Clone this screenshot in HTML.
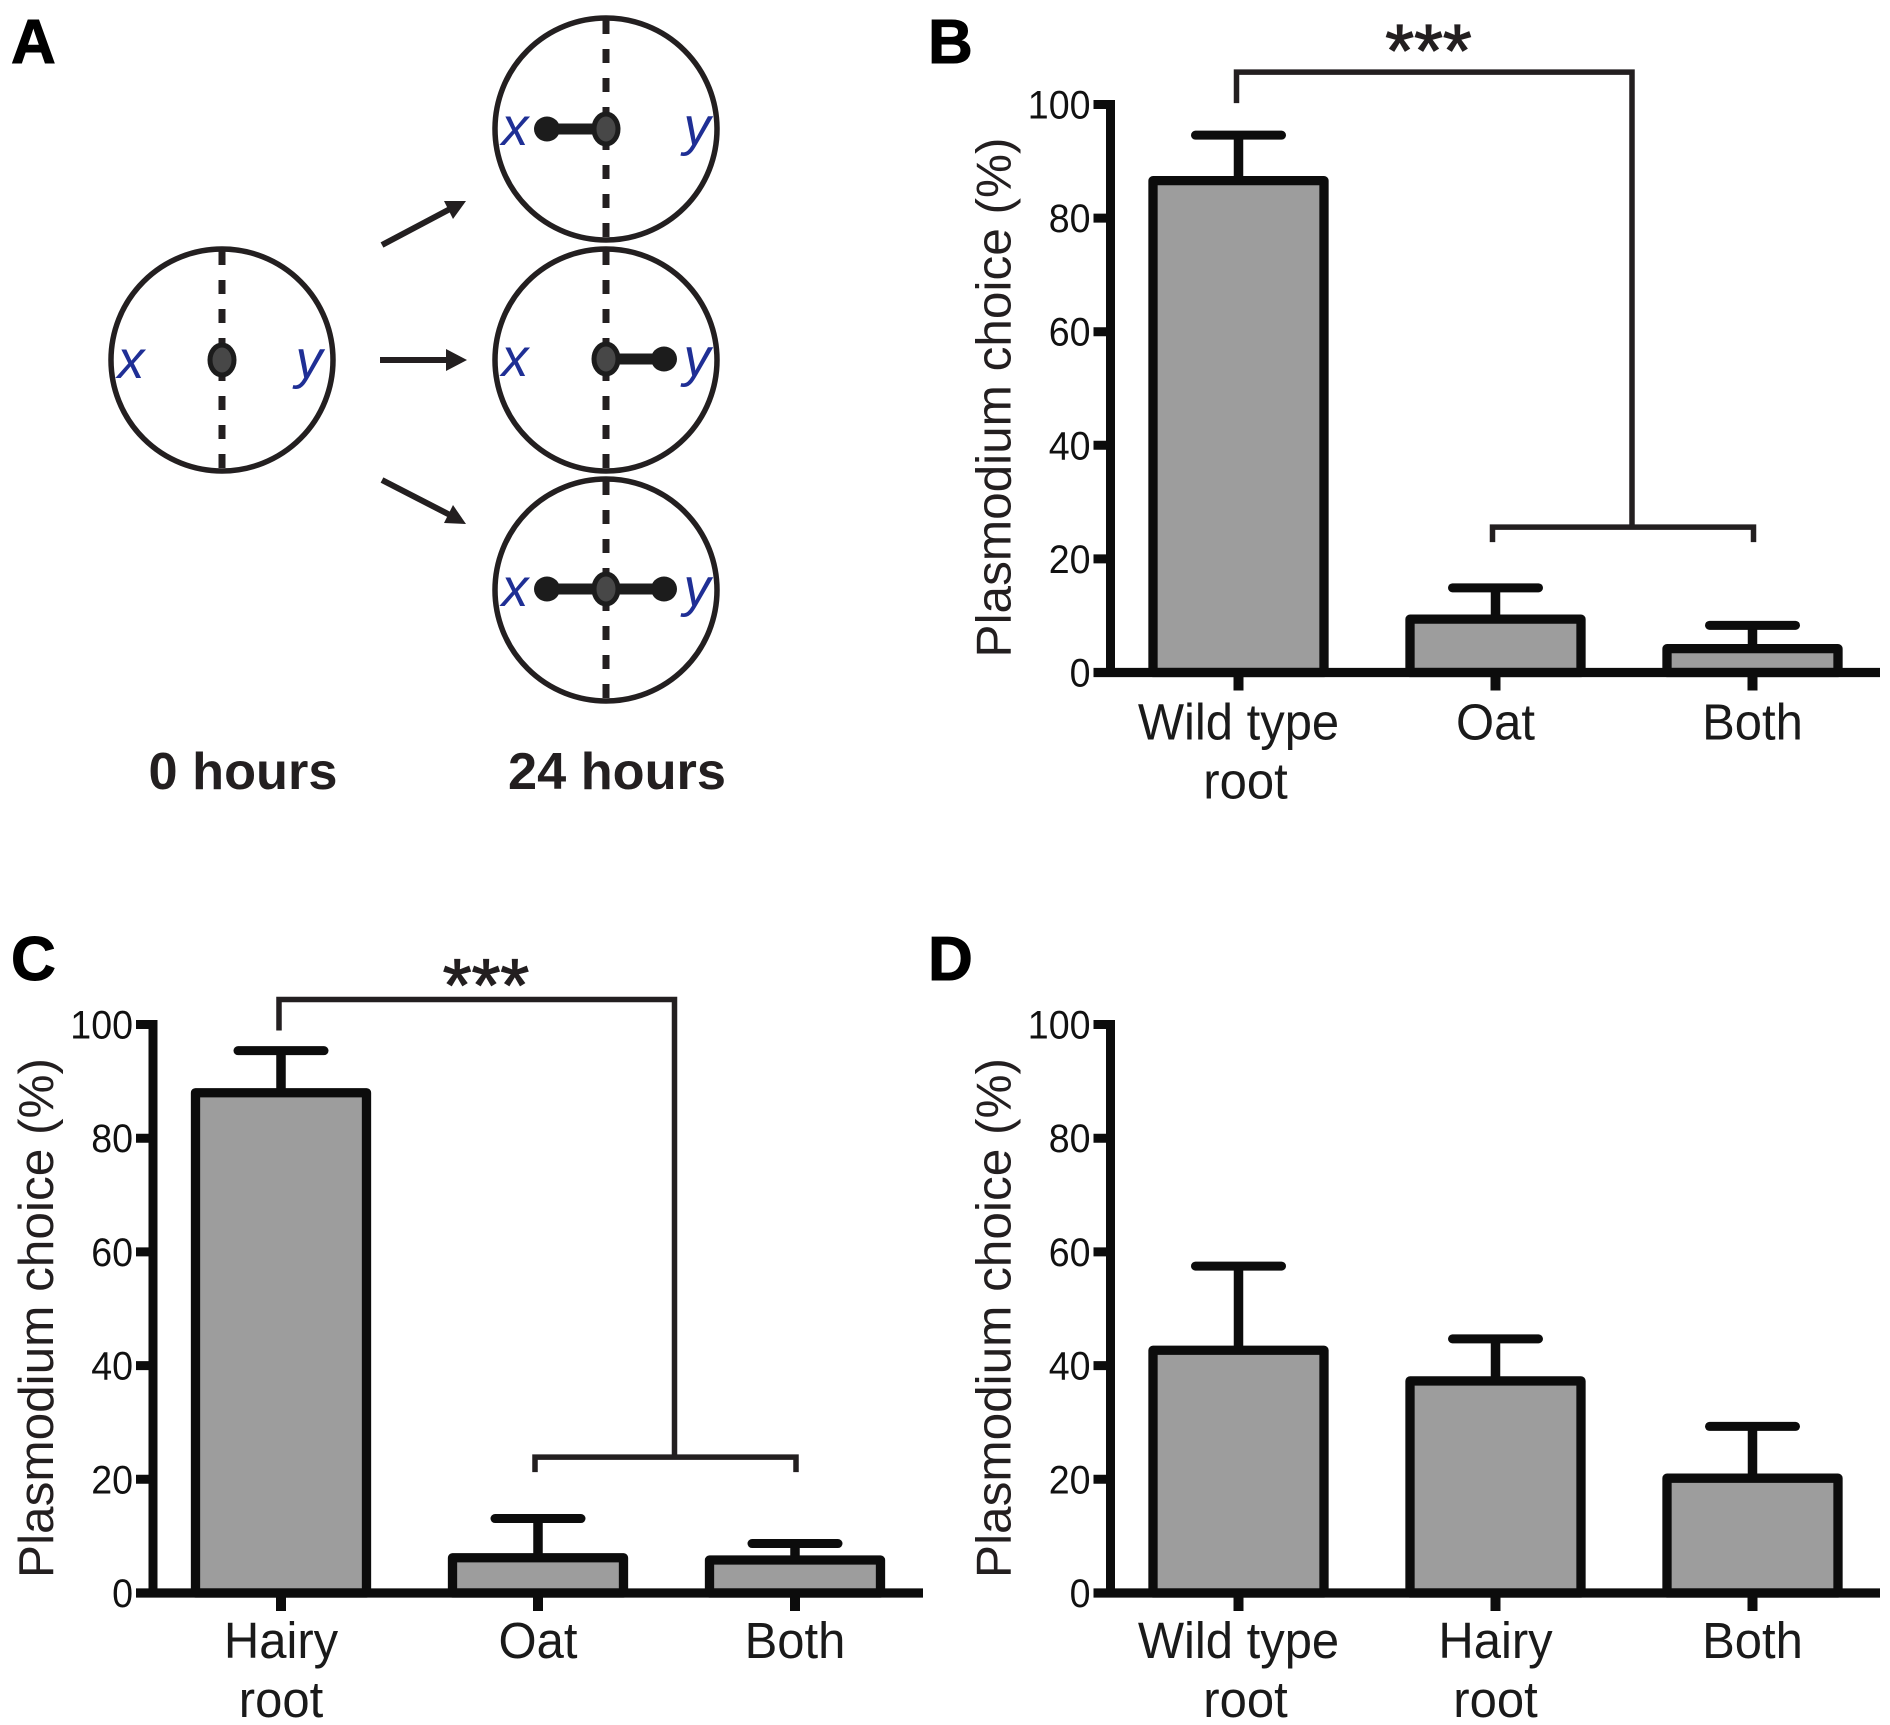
<!DOCTYPE html>
<html lang="en">
<head>
<meta charset="utf-8">
<title>Plasmodium choice assay</title>
<style>
html,body{margin:0;padding:0;background:#fff;width:1890px;height:1725px;overflow:hidden}
svg{display:block}
text{font-family:"Liberation Sans",Arial,sans-serif}
.panel-letter{font-weight:700;font-size:62px;fill:#000;stroke:#000;stroke-width:1}
.time{font-weight:700;font-size:52.3px;fill:#231f20;text-anchor:middle}
.lbl{font-style:italic;font-size:54px;fill:#1f2f95;text-anchor:middle}
</style>
</head>
<body>
<svg id="fig" xmlns="http://www.w3.org/2000/svg" width="1890" height="1725" viewBox="0 0 1890 1725">
  <rect x="0" y="0" width="1890" height="1725" fill="#fff"/>
  <text class="panel-letter" x="11" y="63">A</text>
  <text class="panel-letter" x="928" y="63">B</text>
  <text class="panel-letter" x="11" y="980">C</text>
  <text class="panel-letter" x="928" y="980">D</text>

  <g>
    <g>
      <circle cx="222" cy="360" r="111" fill="#fff" stroke="#231f20" stroke-width="5.5"/>
      <line x1="222" y1="251" x2="222" y2="471" stroke="#231f20" stroke-width="7" stroke-dasharray="14 15"/>
      <ellipse cx="222" cy="360" rx="12" ry="15" fill="#474747" stroke="#1c1c1c" stroke-width="5"/>
      <text class="lbl" x="131" y="378">x</text>
      <text class="lbl" x="309" y="378">y</text>
    </g>
    <g>
      <circle cx="606" cy="129" r="111" fill="#fff" stroke="#231f20" stroke-width="5.5"/>
      <line x1="606" y1="20" x2="606" y2="240" stroke="#231f20" stroke-width="7" stroke-dasharray="14 15"/>
      <line x1="547" y1="129" x2="606" y2="129" stroke="#1c1c1c" stroke-width="11"/>
      <ellipse cx="547" cy="129" rx="13" ry="12.5" fill="#1c1c1c"/>
      <ellipse cx="606" cy="129" rx="12" ry="15" fill="#474747" stroke="#1c1c1c" stroke-width="5"/>
      <text class="lbl" x="515" y="145">x</text>
      <text class="lbl" x="697" y="145">y</text>
    </g>
    <g>
      <circle cx="606" cy="360" r="111" fill="#fff" stroke="#231f20" stroke-width="5.5"/>
      <line x1="606" y1="251" x2="606" y2="471" stroke="#231f20" stroke-width="7" stroke-dasharray="14 15"/>
      <line x1="606" y1="359" x2="664" y2="359" stroke="#1c1c1c" stroke-width="11"/>
      <ellipse cx="664" cy="359" rx="13" ry="12.5" fill="#1c1c1c"/>
      <ellipse cx="606" cy="359" rx="12" ry="15" fill="#474747" stroke="#1c1c1c" stroke-width="5"/>
      <text class="lbl" x="515" y="376">x</text>
      <text class="lbl" x="697" y="376">y</text>
    </g>
    <g>
      <circle cx="606" cy="590" r="111" fill="#fff" stroke="#231f20" stroke-width="5.5"/>
      <line x1="606" y1="481" x2="606" y2="701" stroke="#231f20" stroke-width="7" stroke-dasharray="14 15"/>
      <line x1="547" y1="589" x2="664" y2="589" stroke="#1c1c1c" stroke-width="11"/>
      <ellipse cx="547" cy="589" rx="13" ry="12.5" fill="#1c1c1c"/>
      <ellipse cx="664" cy="589" rx="13" ry="12.5" fill="#1c1c1c"/>
      <ellipse cx="606" cy="589" rx="12" ry="15" fill="#474747" stroke="#1c1c1c" stroke-width="5"/>
      <text class="lbl" x="515" y="606">x</text>
      <text class="lbl" x="697" y="606">y</text>
    </g>
    <g fill="#231f20" stroke="none">
      <line x1="382" y1="245" x2="450" y2="209" stroke="#231f20" stroke-width="6"/>
      <polygon points="466,201 444,201 453,219"/>
      <line x1="380" y1="360" x2="448" y2="360" stroke="#231f20" stroke-width="6"/>
      <polygon points="467,360 446,349 446,371"/>
      <line x1="382" y1="480" x2="450" y2="515" stroke="#231f20" stroke-width="6"/>
      <polygon points="466,524 453,505 444,523"/>
    </g>
    <text class="time" x="243" y="789">0 hours</text>
    <text class="time" x="617" y="789">24 hours</text>
  </g>
  <g id="charts"></g>
</svg>
<script>
const tickValues = [0, 20, 40, 60, 80, 100];
const tickLabels = ['0', '20', '40', '60', '80', '100'];

const categoriesB = ['Wild type|root', 'Oat', 'Both'];
const valuesB = [86.6, 9.4, 4.2];
const errorsB = [8.0, 5.5, 4.1];

const categoriesC = ['Hairy|root', 'Oat', 'Both'];
const valuesC = [88.0, 6.2, 5.8];
const errorsC = [7.4, 6.9, 2.9];

const categoriesD = ['Wild type|root', 'Hairy|root', 'Both'];
const valuesD = [42.7, 37.3, 20.2];
const errorsD = [14.8, 7.4, 9.1];

const NS = 'http://www.w3.org/2000/svg';
const root = document.getElementById('charts');

function make(parent, tag, props) {
  const el = document.createElementNS(NS, tag);
  for (const k in props) el.setAttribute(k, props[k]);
  parent.appendChild(el);
  return el;
}

function squeeze(el, ratio) {
  const w = el.getComputedTextLength();
  el.setAttribute('textLength', (w * ratio).toFixed(1));
  el.setAttribute('lengthAdjust', 'spacingAndGlyphs');
}

function drawPanel(id, cats, vals, errs, frame, bracket) {
  const yScale = v => frame.y0 - v * (frame.y0 - frame.y100) / 100;
  const xScale = i => frame.axisX + frame.firstOffset + i * frame.step;

  const g = make(root, 'g', {});
  
  

  cats.forEach((c, i) => {
    const cx = xScale(i);
    const stem = make(g, 'line', {x1: cx, x2: cx, y1: yScale(vals[i]), y2: yScale(vals[i] + errs[i]), stroke: '#0c0c0c', 'stroke-width': 9.5});
    
    
    const cap = make(g, 'line', {x1: cx - 43, x2: cx + 43, y1: yScale(vals[i] + errs[i]), y2: yScale(vals[i] + errs[i]), stroke: '#0c0c0c', 'stroke-width': 9, 'stroke-linecap': 'round'});
    
    
    const bar = make(g, 'rect', {x: cx - 85.5, y: yScale(vals[i]), width: 171, height: yScale(0) - yScale(vals[i]), fill: '#9d9d9d', stroke: '#0c0c0c', 'stroke-width': 9.3, 'stroke-linejoin': 'round'});
    
    
  });

  const yAxis = make(g, 'line', {x1: frame.axisX, x2: frame.axisX, y1: yScale(100) - 4.5, y2: yScale(0) + 4.5, stroke: '#0c0c0c', 'stroke-width': 9});
  
  
  const xAxis = make(g, 'line', {x1: frame.axisX - 17, x2: frame.axisEnd, y1: yScale(0), y2: yScale(0), stroke: '#0c0c0c', 'stroke-width': 9.3});
  
  

  tickValues.forEach((t, i) => {
    const tick = make(g, 'line', {x1: frame.axisX - 17, x2: frame.axisX, y1: yScale(t), y2: yScale(t), stroke: '#0c0c0c', 'stroke-width': 9});
    
    
    const lab = make(g, 'text', {x: frame.axisX - 20, y: yScale(t) + 14, 'text-anchor': 'end', 'font-size': 40, fill: '#111'});
    lab.textContent = tickLabels[i];
    
    
    squeeze(lab, 0.94);
  });

  cats.forEach((c, i) => {
    const cx = xScale(i);
    const tick = make(g, 'line', {x1: cx, x2: cx, y1: yScale(0), y2: yScale(0) + 18, stroke: '#0c0c0c', 'stroke-width': 10});
    
    
    const lines = c.split('|');
    lines.forEach((line, j) => {
      const shift = (j === 1 && lines[0] === 'Wild type') ? 7 : 0;
      const lab = make(g, 'text', {x: cx + shift, y: yScale(0) + frame.labelDrop + j * 59, 'text-anchor': 'middle', 'font-size': 51, fill: '#1a1a1a'});
      lab.textContent = line;
      
      
      squeeze(lab, 0.96);
    });
  });

  const titleX = frame.axisX - 100;
  const titleY = yScale(0) - 275;
  const title = make(g, 'text', {x: 0, y: 0, 'text-anchor': 'middle', 'font-size': 49.5, fill: '#231f20', transform: 'translate(' + titleX + ' ' + titleY + ') rotate(-90)'});
  title.textContent = 'Plasmodium choice (%)';
  
  

  if (bracket) {
    const top = yScale(bracket.top);
    const low = yScale(bracket.low);
    const x0 = xScale(0) - 2;
    const x1 = xScale(1) - 3;
    const x2 = xScale(2) + 1;
    const xv = (xScale(1) + xScale(2)) / 2 + 8;
    const upper = make(g, 'path', {d: 'M' + x0 + ' ' + (top + 31) + 'V' + top + 'H' + xv + 'V' + low, fill: 'none', stroke: '#231f20', 'stroke-width': 5.5});
    
    
    const lower = make(g, 'path', {d: 'M' + x1 + ' ' + (low + 15) + 'V' + low + 'H' + x2 + 'V' + (low + 15), fill: 'none', stroke: '#231f20', 'stroke-width': 5.5});
    
    
    const stars = make(g, 'text', {x: x0 + bracket.starShift, y: top + bracket.starDrop, 'text-anchor': 'middle', 'font-size': 74, fill: '#231f20', stroke: '#231f20', 'stroke-width': 1.2});
    stars.textContent = '***';
    
    
  }
}

drawPanel('b', categoriesB, valuesB, errorsB,
  {axisX: 1110.5, axisEnd: 1880, y0: 672.5, y100: 104.5, firstOffset: 128, step: 257, labelDrop: 67},
  {top: 105.7, low: 25.6, starShift: 192, starDrop: 4});
drawPanel('c', categoriesC, valuesC, errorsC,
  {axisX: 153, axisEnd: 923, y0: 1593, y100: 1024.5, firstOffset: 128, step: 257, labelDrop: 65},
  {top: 104.4, low: 23.9, starShift: 207, starDrop: 11});
drawPanel('d', categoriesD, valuesD, errorsD,
  {axisX: 1110.5, axisEnd: 1880, y0: 1593, y100: 1024.5, firstOffset: 128, step: 257, labelDrop: 65},
  null);
</script>
</body>
</html>
